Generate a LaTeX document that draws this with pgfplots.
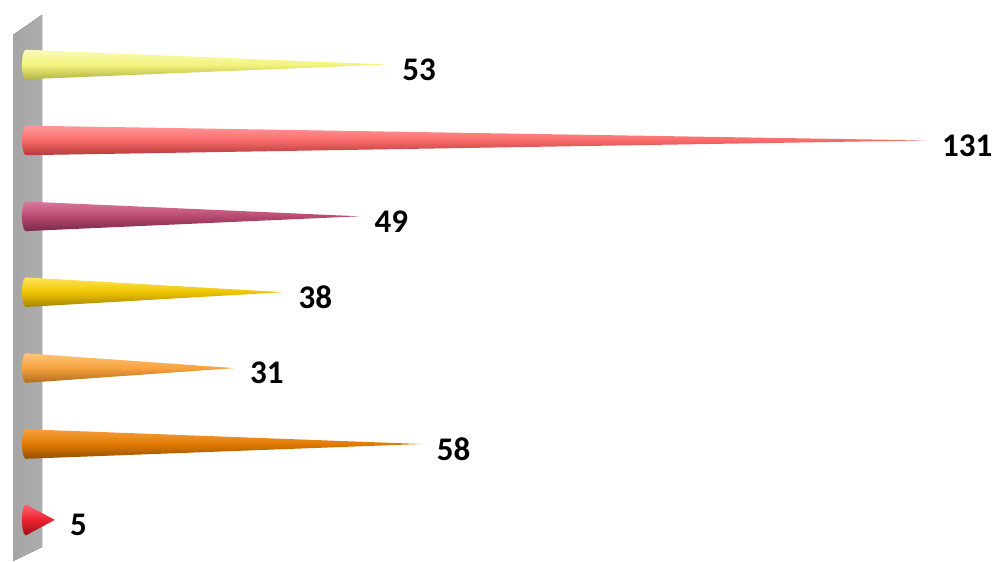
\documentclass[border=0pt]{standalone}
\usepackage{fontspec}
\setmainfont{Carlito}
\usepackage{pgfplots}
\usepackage{pgfplotstable}
\pgfplotsset{compat=1.18}

% cone colours: light (top), body, dark edge (bottom)
\definecolor{yelT}{HTML}{FBFBB8}\definecolor{yelM}{HTML}{F3F37E}\definecolor{yelB}{HTML}{B4B443}
\definecolor{salT}{HTML}{FF9A9A}\definecolor{salM}{HTML}{F86A6A}\definecolor{salB}{HTML}{B33A3A}
\definecolor{marT}{HTML}{D9789A}\definecolor{marM}{HTML}{B84A70}\definecolor{marB}{HTML}{78294A}
\definecolor{golT}{HTML}{FFE45A}\definecolor{golM}{HTML}{EEC400}\definecolor{golB}{HTML}{A38300}
\definecolor{oraT}{HTML}{FFC47A}\definecolor{oraM}{HTML}{F6A23E}\definecolor{oraB}{HTML}{B06C20}
\definecolor{druT}{HTML}{F6A040}\definecolor{druM}{HTML}{E07A02}\definecolor{druB}{HTML}{955000}
\definecolor{redT}{HTML}{FF6470}\definecolor{redM}{HTML}{E8222E}\definecolor{redB}{HTML}{9E1018}
\definecolor{wallL}{HTML}{A5A5A5}\definecolor{wallR}{HTML}{ADADAD}

% position (top = 7) and value of each cone
\pgfplotstableread{
pos value
7 53
6 131
5 49
4 38
3 31
2 58
1 5
}\conedata

\begin{document}
\begin{tikzpicture}
\begin{axis}[
  scale only axis,
  width=499.5pt, height=280.5pt,
  xmin=-2.92, xmax=141.45,
  ymin=0.4585, ymax=7.85,
  hide axis,
  clip=false,
  /pgf/number format/assume math mode=true,
  cone/.style={draw=none, mark=none, shading=axis, shading angle=0},
]
% fix the picture size to the axis box
\path (rel axis cs:0,0) rectangle (rel axis cs:1,1);

% side wall
\fill[left color=wallL, right color=wallR]
  (axis cs:-1.04,0.4585) -- (axis cs:-1.04,7.389) -- (axis cs:3.15,7.652)
  -- (axis cs:3.15,0.643) -- cycle;

% cones: base arc on the left, tip at the value
\addplot[cone, top color=yelT, bottom color=yelB, middle color=yelM] coordinates {
  (0.8,7.195) (53,7) (0.8,6.805) (0.525,6.831) (0.324,6.9025) (0.25,7) (0.324,7.0975) (0.525,7.169)};
\addplot[cone, top color=salT, bottom color=salB, middle color=salM] coordinates {
  (0.8,6.195) (131,6) (0.8,5.805) (0.525,5.831) (0.324,5.9025) (0.25,6) (0.324,6.0975) (0.525,6.169)};
\addplot[cone, top color=marT, bottom color=marB, middle color=marM] coordinates {
  (0.8,5.195) (49,5) (0.8,4.805) (0.525,4.831) (0.324,4.9025) (0.25,5) (0.324,5.0975) (0.525,5.169)};
\addplot[cone, top color=golT, bottom color=golB, middle color=golM] coordinates {
  (0.8,4.195) (38,4) (0.8,3.805) (0.525,3.831) (0.324,3.9025) (0.25,4) (0.324,4.0975) (0.525,4.169)};
\addplot[cone, top color=oraT, bottom color=oraB, middle color=oraM] coordinates {
  (0.8,3.195) (31,3) (0.8,2.805) (0.525,2.831) (0.324,2.9025) (0.25,3) (0.324,3.0975) (0.525,3.169)};
\addplot[cone, top color=druT, bottom color=druB, middle color=druM] coordinates {
  (0.8,2.195) (58,2) (0.8,1.805) (0.525,1.831) (0.324,1.9025) (0.25,2) (0.324,2.0975) (0.525,2.169)};
\addplot[cone, top color=redT, bottom color=redB, middle color=redM] coordinates {
  (0.8,1.205) (5,1) (0.8,0.795) (0.525,0.822) (0.324,0.897) (0.25,1) (0.324,1.103) (0.525,1.178)};

% value labels at the cone tips
\addplot[only marks, mark=*, mark size=0pt, mark options={draw=none, fill=none},
  nodes near coords, point meta=x,
  nodes near coords style={anchor=west, inner sep=0pt, xshift=7.5pt, yshift=-2.5pt,
    font=\fontsize{16.5}{19}\selectfont\bfseries, text=black}]
  table[x=value, y=pos] {\conedata};
\end{axis}
\end{tikzpicture}
\end{document}
